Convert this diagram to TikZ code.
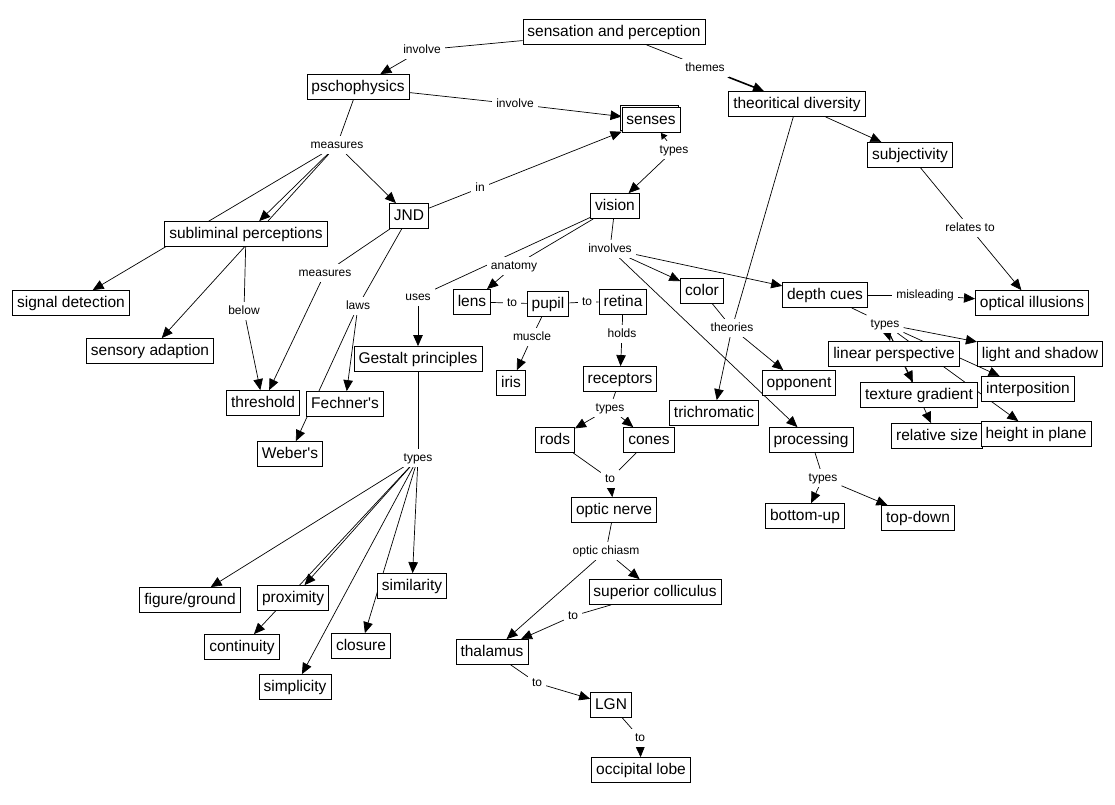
\documentclass[tikz,border=0pt]{standalone}
\usepackage{fontspec}
\setmainfont{Liberation Sans}
\usetikzlibrary{arrows.meta,shadows}
\pgfdeclarelayer{edges}
\pgfsetlayers{edges,main}

\begin{document}
\begin{tikzpicture}[x=1pt,y=-1pt,
	concept/.style={draw,fill=white,line width=0.8pt,font=\fontsize{15.5}{18}\selectfont,inner xsep=4.5pt,inner ysep=5pt,text height=11.5pt,text depth=3.5pt},
	phrase/.style={fill=white,font=\fontsize{12}{14}\selectfont,inner xsep=4pt,inner ysep=3pt,text height=9pt,text depth=2.5pt},
	link/.style={line width=0.7pt},
	arrow/.style={line width=0.7pt,-{Triangle[length=11pt,width=9.5pt]}}]
	\useasboundingbox (0,0) rectangle (1115,804);
	
	% concepts
	\node[concept] (sp) at (614,32) {sensation and perception};
	\node[concept] (psy) at (358,87) {pschophysics};
	\node[concept,copy shadow={shadow xshift=-2pt,shadow yshift=2pt,fill=white,draw,line width=0.8pt}] (senses) at (651,120) {senses};
	\node[concept] (thdiv) at (797,104) {theoritical diversity};
	\node[concept] (subj) at (910,155) {subjectivity};
	\node[concept] (jnd) at (409,216) {JND};
	\node[concept] (vision) at (615,206) {vision};
	\node[concept] (subl) at (246,234) {subliminal perceptions};
	\node[concept] (sigdet) at (71,303) {signal detection};
	\node[concept] (sensad) at (150,351) {sensory adaption};
	\node[concept] (thresh) at (263,403) {threshold};
	\node[concept] (fechner) at (345,404) {Fechner\textquotesingle s};
	\node[concept] (weber) at (290,454) {Weber\textquotesingle s};
	\node[concept] (gestalt) at (418,359) {Gestalt principles};
	\node[concept] (lens) at (472,302) {lens};
	\node[concept] (pupil) at (548,304) {pupil};
	\node[concept] (retina) at (623,302) {retina};
	\node[concept] (iris) at (511,383) {iris};
	\node[concept] (recept) at (620,379) {receptors};
	\node[concept] (color) at (702,291) {color};
	\node[concept] (depth) at (825,295) {depth cues};
	\node[concept] (optill) at (1032,303) {optical illusions};
	\node[concept] (oppon) at (799,383) {opponent};
	\node[concept] (trichr) at (714,413) {trichromatic};
	\node[concept] (proc) at (811,440) {processing};
	\node[concept] (rods) at (555,440) {rods};
	\node[concept] (cones) at (649,440) {cones};
	\node[concept] (linper) at (894,354) {linear perspective};
	\node[concept] (lightsh) at (1040,354) {light and shadow};
	\node[concept] (interp) at (1028,389) {interposition};
	\node[concept] (texgr) at (919,395) {texture gradient};
	\node[concept] (relsz) at (937,436) {relative size};
	\node[concept] (hplane) at (1036,434) {height in plane};
	\node[concept] (botup) at (805,516) {bottom-up};
	\node[concept] (topdn) at (918,518) {top-down};
	\node[concept] (optnrv) at (614,510) {optic nerve};
	\node[concept] (supcol) at (655,592) {superior colliculus};
	\node[concept] (thal) at (492,652) {thalamus};
	\node[concept] (lgn) at (611,705) {LGN};
	\node[concept] (occip) at (641,770) {occipital lobe};
	\node[concept] (figgr) at (190,600) {figure/ground};
	\node[concept] (prox) at (293,598) {proximity};
	\node[concept] (simil) at (412,586) {similarity};
	\node[concept] (contin) at (242,647) {continuity};
	\node[concept] (closure) at (361,646) {closure};
	\node[concept] (simpl) at (295,687) {simplicity};
	
	% linking phrases
	\node[phrase] (inv1) at (422,50) {involve};
	\node[phrase] (themes) at (705,68) {themes};
	\node[phrase] (inv2) at (515,104) {involve};
	\node[phrase] (meas1) at (337,145) {measures};
	\node[phrase] (tys1) at (674,150) {types};
	\node[phrase] (in) at (480,188) {in};
	\node[phrase] (meas2) at (325,273) {measures};
	\node[phrase] (laws) at (358,306) {laws};
	\node[phrase] (below) at (244,311) {below};
	\node[phrase] (uses) at (418,297) {uses};
	\node[phrase] (tys2) at (418,458) {types};
	\node[phrase] (anat) at (514,266) {anatomy};
	\node[phrase] (invs) at (610,249) {involves};
	\node[phrase] (to1) at (512,303) {to};
	\node[phrase] (to2) at (587,302) {to};
	\node[phrase] (muscle) at (532,337) {muscle};
	\node[phrase] (holds) at (622,334) {holds};
	\node[phrase] (theor) at (732,328) {theories};
	\node[phrase] (tys3) at (610,408) {types};
	\node[phrase] (to3) at (610,479) {to};
	\node[phrase] (chiasm) at (606,551) {optic chiasm};
	\node[phrase] (to4) at (573,616) {to};
	\node[phrase] (to5) at (537,683) {to};
	\node[phrase] (to6) at (640,738) {to};
	\node[phrase] (mislead) at (925,295) {misleading};
	\node[phrase] (relto) at (970,228) {relates to};
	\node[phrase] (tys4) at (885,324) {types};
	\node[phrase] (tys5) at (823,478) {types};
	
	\begin{pgfonlayer}{edges}
	\draw[link] (sp) -- (inv1);
	\draw[arrow] (inv1) -- (psy);
	\draw[link] (sp) -- (themes);
	\draw[arrow,line width=1.6pt] (themes) -- (thdiv);
	\draw[link] (psy) -- (inv2);
	\draw[arrow] (inv2) -- (senses);
	\draw[link] (psy) -- (meas1);
	\foreach \t in {subl,sigdet,sensad,jnd}
		\draw[arrow] (meas1) -- (\t);
	\draw[arrow,-{Triangle[length=6pt,width=7pt]}] (tys1) -- (senses);
	\draw[arrow] (tys1) -- (vision);
	\draw[link] (jnd) -- (in);
	\draw[arrow] (in) -- (senses);
	\draw[link] (jnd) -- (meas2);
	\draw[arrow] (meas2) -- (thresh);
	\draw[link] (jnd) -- (laws);
	\draw[arrow] (laws) -- (fechner);
	\draw[arrow] (laws) -- (weber);
	\draw[link] (subl) -- (below);
	\draw[arrow] (below) -- (thresh);
	
	\draw[link] (vision) -- (anat);
	\draw[arrow] (anat) -- (lens);
	\draw[link] (vision) -- (uses);
	\draw[arrow] (uses) -- (gestalt);
	\draw[link] (vision) -- (invs);
	\foreach \t in {color,depth,proc}
		\draw[arrow] (invs) -- (\t);
	\draw[link] (lens) -- (to1) -- (pupil) -- (to2) -- (retina);
	\draw[link] (pupil) -- (muscle);
	\draw[arrow] (muscle) -- (iris);
	\draw[link] (retina) -- (holds);
	\draw[arrow] (holds) -- (recept);
	\draw[link] (recept) -- (tys3);
	\draw[arrow] (tys3) -- (rods);
	\draw[arrow] (tys3) -- (cones);
	\draw[link] (rods) -- (to3);
	\draw[link] (cones) -- (to3);
	\draw[arrow] (to3) -- (optnrv);
	\draw[link] (optnrv) -- (chiasm);
	\draw[arrow] (chiasm) -- (thal);
	\draw[arrow] (chiasm) -- (supcol);
	\draw[link] (supcol) -- (to4);
	\draw[arrow] (to4) -- (thal);
	\draw[link] (thal) -- (to5);
	\draw[arrow] (to5) -- (lgn);
	\draw[link] (lgn) -- (to6);
	\draw[arrow] (to6) -- (occip);
	
	\draw[link] (color) -- (theor);
	\draw[link] (thdiv) -- (theor);
	\draw[arrow] (theor) -- (oppon);
	\draw[arrow] (theor) -- (trichr);
	\draw[arrow] (thdiv) -- (subj);
	\draw[link] (subj) -- (relto);
	\draw[arrow] (relto) -- (optill);
	\draw[link] (depth) -- (mislead);
	\draw[arrow] (mislead) -- (optill);
	\draw[link] (depth) -- (tys4);
	\foreach \t in {lightsh,linper,interp,texgr,hplane,relsz}
		\draw[arrow] (tys4) -- (\t);
	\draw[link] (proc) -- (tys5);
	\draw[arrow] (tys5) -- (botup);
	\draw[arrow] (tys5) -- (topdn);
	\draw[link] (gestalt) -- (tys2);
	\foreach \t in {figgr,prox,contin,simpl,closure,simil}
		\draw[arrow] (tys2) -- (\t);
	\end{pgfonlayer}
	
\end{tikzpicture}
\end{document}
